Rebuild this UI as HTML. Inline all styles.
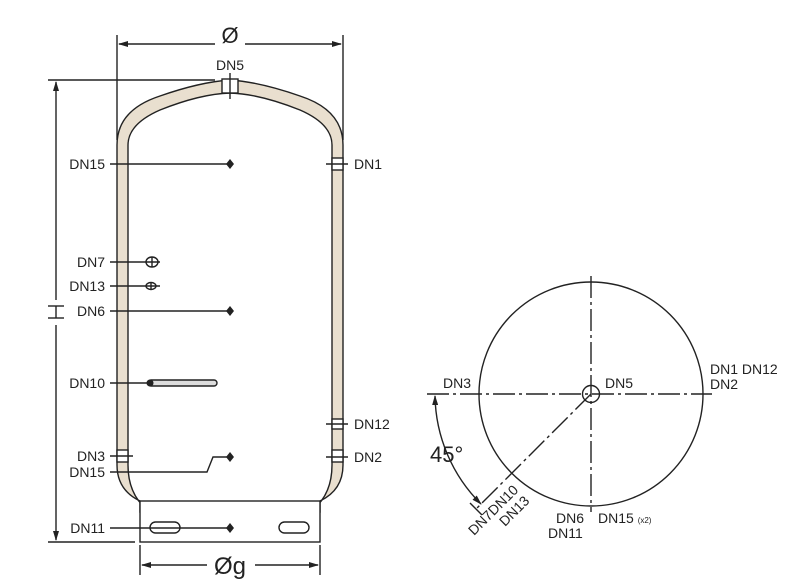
<!DOCTYPE html>
<html><head><style>
html,body{margin:0;padding:0;background:#fff;}
svg{display:block;font-family:"Liberation Sans",sans-serif;}
text{fill:#222;}
</style></head><body>
<svg width="800" height="584" viewBox="0 0 800 584" xmlns="http://www.w3.org/2000/svg" font-size="14">
<defs>
<marker id="ar" markerWidth="10" markerHeight="6" refX="9" refY="3" orient="auto" markerUnits="userSpaceOnUse"><path d="M0,0 L10,3 L0,6 Z" fill="#222"/></marker>
<marker id="as" markerWidth="10" markerHeight="6" refX="1" refY="3" orient="auto" markerUnits="userSpaceOnUse"><path d="M10,0 L0,3 L10,6 Z" fill="#222"/></marker>
</defs>
<g stroke="#222" stroke-width="1.4" fill="none">
<path d="M117,465 L117,145 Q117,110 160,96 Q200,82 230,80 Q260,82 300,96 Q343,110 343,145 L343,465 Q343,490 320,501 L320,512 L310,512 Q332,496 332,465 L332,145 Q332,124 300,110 Q260,94 230,93 Q200,94 160,110 Q128,124 128,145 L128,465 Q128,496 150,512 L140,512 L140,501 Q117,490 117,465 Z" fill="#e9dfcf"/>
<rect x="140" y="501" width="180" height="41" fill="#fff"/>
<rect x="150" y="522" width="30" height="11" rx="5.5"/>
<rect x="279" y="522" width="30" height="11" rx="5.5"/>
<rect x="222" y="79" width="16" height="14" fill="#fff"/>
<line x1="230" y1="73" x2="230" y2="99"/>
<rect x="332" y="158" width="11" height="12" fill="#fff"/>
<line x1="326" y1="164" x2="348" y2="164"/>
<rect x="332" y="419" width="11" height="10" fill="#fff"/>
<line x1="326" y1="424" x2="348" y2="424"/>
<rect x="332" y="450" width="11" height="12" fill="#fff"/>
<line x1="326" y1="457" x2="348" y2="457"/>
<rect x="117" y="450" width="11" height="12" fill="#fff"/>
<line x1="110" y1="456" x2="133" y2="456"/>
<line x1="110" y1="164" x2="230" y2="164"/>
<line x1="110" y1="262" x2="160" y2="262"/>
<line x1="110" y1="286" x2="160" y2="286"/>
<line x1="110" y1="311" x2="230" y2="311"/>
<line x1="110" y1="383" x2="148" y2="383"/>
<path d="M110,472 L207,472 L213,457 L230,457"/>
<line x1="110" y1="528" x2="230" y2="528"/>
<rect x="148" y="380" width="69" height="6" rx="3" fill="#ddd"/>
<ellipse cx="152" cy="262" rx="6" ry="5"/>
<line x1="152" y1="257" x2="152" y2="267"/>
<ellipse cx="151" cy="286" rx="5" ry="3.5"/>
<line x1="151" y1="282" x2="151" y2="290"/>
<line x1="117" y1="35" x2="117" y2="140"/>
<line x1="343" y1="35" x2="343" y2="140"/>
<line x1="119" y1="44" x2="215" y2="44" marker-start="url(#as)"/>
<line x1="245" y1="44" x2="341" y2="44" marker-end="url(#ar)"/>
<line x1="48" y1="80" x2="215" y2="80"/>
<line x1="48" y1="542" x2="135" y2="542"/>
<line x1="56" y1="82" x2="56" y2="300" marker-start="url(#as)"/>
<line x1="56" y1="325" x2="56" y2="540" marker-end="url(#ar)"/>
<line x1="140" y1="545" x2="140" y2="575"/>
<line x1="320" y1="545" x2="320" y2="575"/>
<line x1="142" y1="565" x2="207" y2="565" marker-start="url(#as)"/>
<line x1="255" y1="565" x2="318" y2="565" marker-end="url(#ar)"/>
<line x1="48" y1="306" x2="64" y2="306"/><line x1="48" y1="318" x2="64" y2="318"/><line x1="56" y1="306" x2="56" y2="318"/>
<circle cx="591" cy="394" r="112"/>
<circle cx="591" cy="394" r="8.5"/>
<line x1="427" y1="394" x2="712" y2="394" stroke-dasharray="22,4,3,4"/>
<line x1="591" y1="276" x2="591" y2="512" stroke-dasharray="22,4,3,4"/>
<line x1="591" y1="394" x2="476" y2="509" stroke-dasharray="22,4,3,4"/>
<line x1="470" y1="503" x2="482" y2="515"/>
<path d="M435,396 A156,156 0 0 0 481,504" marker-start="url(#as)" marker-end="url(#ar)"/>
</g>
<g fill="#222">
<path d="M230,159 L234,164 L230,169 L226,164Z"/>
<path d="M230,306 L234,311 L230,316 L226,311Z"/>
<path d="M230,452 L234,457 L230,462 L226,457Z"/>
<path d="M230,523 L234,528 L230,533 L226,528Z"/>
<circle cx="150" cy="383" r="3.5"/>
</g>
<g>
<text x="230" y="43" style="font-size:22px" text-anchor="middle">Ø</text>
<text x="230" y="70" text-anchor="middle">DN5</text>
<text x="105" y="169" text-anchor="end">DN15</text>
<text x="354" y="169">DN1</text>
<text x="105" y="267" text-anchor="end">DN7</text>
<text x="105" y="291" text-anchor="end">DN13</text>
<text x="105" y="316" text-anchor="end">DN6</text>
<text x="105" y="388" text-anchor="end">DN10</text>
<text x="354" y="429">DN12</text>
<text x="105" y="461" text-anchor="end">DN3</text>
<text x="354" y="462">DN2</text>
<text x="105" y="477" text-anchor="end">DN15</text>
<text x="105" y="533" text-anchor="end">DN11</text>
<text x="230" y="574" style="font-size:24px" text-anchor="middle">Øg</text>
<text x="443" y="388">DN3</text>
<text x="605" y="388">DN5</text>
<text x="710" y="374">DN1 DN12</text>
<text x="710" y="389">DN2</text>
<text x="430" y="462" style="font-size:22px">45°</text>
<text x="556" y="523">DN6</text>
<text x="548" y="538">DN11</text>
<text x="598" y="523">DN15 <tspan style="font-size:8px">(x2)</tspan></text>
<text transform="translate(474,536) rotate(-45)">DN7DN10</text>
<text transform="translate(505,527) rotate(-45)">DN13</text>
</g>
</svg>
</body></html>
